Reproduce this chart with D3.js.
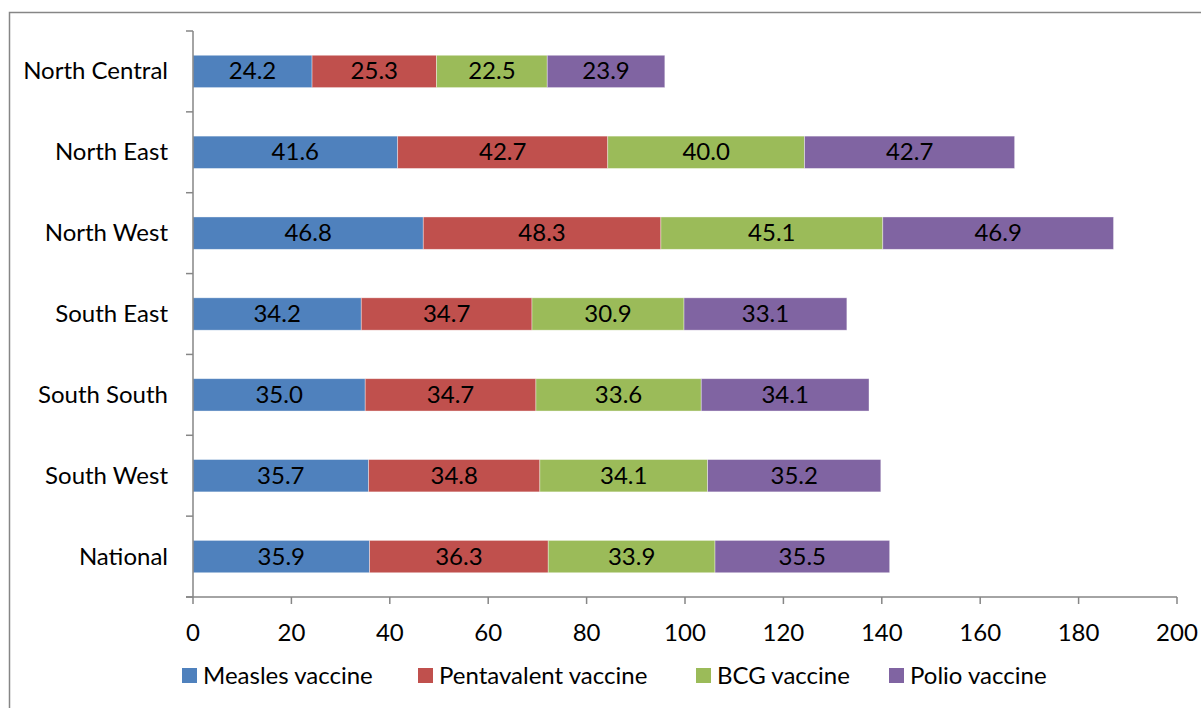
<!DOCTYPE html>
<html><head><meta charset="utf-8">
<script src="https://cdn.jsdelivr.net/npm/d3@7"></script>
<style>body{margin:0;background:#fff}svg{display:block}text{font-family:Lato,"Open Sans",sans-serif;fill:#000}</style>
</head><body><svg id="c" width="1201" height="708"></svg>
<script>
const categories = ["North Central","North East","North West","South East","South South","South West","National"];
const seriesNames = ["Measles vaccine","Pentavalent vaccine","BCG vaccine","Polio vaccine"];
const measles = [24.2,41.6,46.8,34.2,35.0,35.7,35.9];
const pentavalent = [25.3,42.7,48.3,34.7,34.7,34.8,36.3];
const bcg = [22.5,40.0,45.1,30.9,33.6,34.1,33.9];
const polio = [23.9,42.7,46.9,33.1,34.1,35.2,35.5];
const xTicks = [0,20,40,60,80,100,120,140,160,180,200];
const colors = ["#4F81BD","#C0504D","#9BBB59","#8064A2"];

const FS = "24px";
const DY = -1.5;
const svg = d3.select("#c");
svg.append("rect").attr("x",9.5).attr("y",12.5).attr("width",1300).attr("height",800)
  .attr("fill","none").attr("stroke","#868686").attr("stroke-width",1.5);

const x = d3.scaleLinear().domain([0,200]).range([193,1177]);
const y = d3.scaleBand().domain(categories).range([31,597]).paddingInner(0.6).paddingOuter(0.3);
const band = d3.scaleBand().domain(categories).range([31,597]);

const data = categories.map((c,i)=>({cat:c, "Measles vaccine":measles[i], "Pentavalent vaccine":pentavalent[i], "BCG vaccine":bcg[i], "Polio vaccine":polio[i]}));
const stacked = d3.stack().keys(seriesNames)(data);

const g = svg.append("g");
stacked.forEach((s,si)=>{
  const gg = g.append("g");
  gg.selectAll("rect").data(s).join("rect")
    .attr("x",d=>x(d[0])).attr("width",d=>x(d[1])-x(d[0]))
    .attr("y",d=>y(d.data.cat)).attr("height",y.bandwidth())
    .attr("fill",colors[si]).attr("stroke","rgba(255,255,255,0.5)").attr("stroke-width",0.75);
  gg.selectAll("text").data(s).join("text")
    .attr("x",d=>(x(d[0])+x(d[1]))/2).attr("y",d=>y(d.data.cat)+y.bandwidth()/2+DY)
    .attr("text-anchor","middle").attr("dominant-baseline","central")
    .style("font-size",FS).text(d=>(d[1]-d[0]).toFixed(1));
});

// axes
const ax = svg.append("g").attr("stroke","#868686").attr("stroke-width",1.5);
ax.append("line").attr("x1",193).attr("x2",193).attr("y1",31).attr("y2",597);
const bounds = categories.map(c=>band(c)).concat([597]);
ax.selectAll(".yt").data(bounds).join("line").attr("x1",186).attr("x2",193).attr("y1",d=>d).attr("y2",d=>d);
ax.append("line").attr("x1",186).attr("x2",1177).attr("y1",597).attr("y2",597);
ax.selectAll(".xt").data(xTicks).join("line").attr("x1",d=>x(d)).attr("x2",d=>x(d)).attr("y1",597).attr("y2",604);

svg.append("g").selectAll("text").data(xTicks).join("text")
  .attr("x",d=>x(d)).attr("y",631).attr("text-anchor","middle").attr("dominant-baseline","central")
  .style("font-size",FS).text(d=>d);
svg.append("g").selectAll("text").data(categories).join("text")
  .attr("x",168).attr("y",c=>band(c)+band.bandwidth()/2+DY).attr("text-anchor","end").attr("dominant-baseline","central")
  .style("font-size",FS).text(d=>d);

// legend
const legX = [182,418,696,889];
const leg = svg.append("g");
seriesNames.forEach((n,i)=>{
  leg.append("rect").attr("x",legX[i]).attr("y",668).attr("width",15).attr("height",15).attr("fill",colors[i]);
  leg.append("text").attr("x",legX[i]+21).attr("y",674.5).attr("dominant-baseline","central").style("font-size",FS).text(n);
});
</script></body></html>
